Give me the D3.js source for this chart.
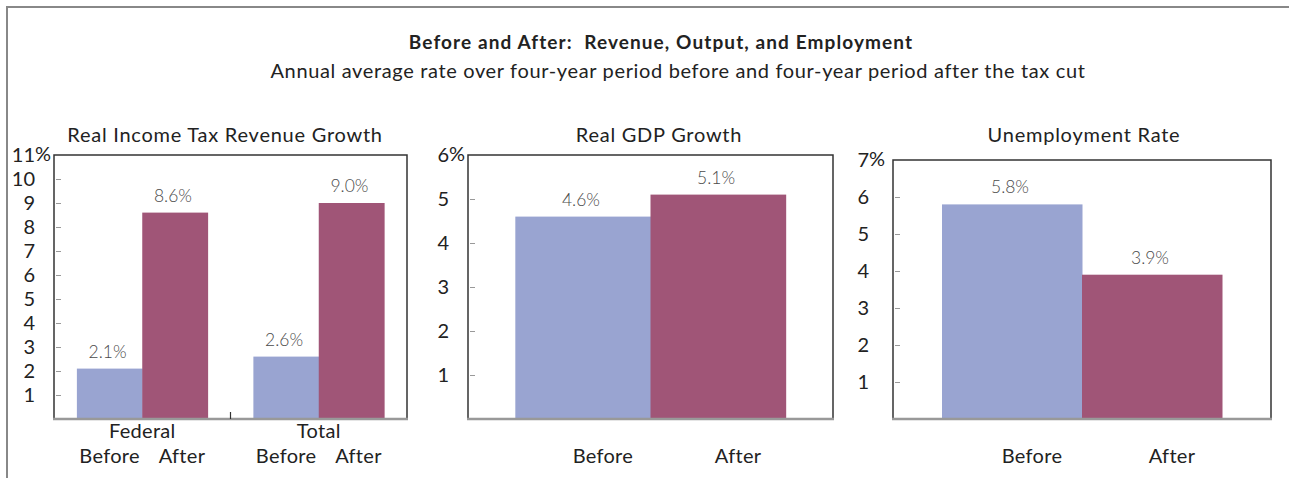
<!DOCTYPE html>
<html><head><meta charset="utf-8">
<script src="https://cdn.jsdelivr.net/npm/d3@7"></script>
<style>
body{margin:0;background:#fff;}
svg{display:block;font-family:Lato,"Open Sans",sans-serif;}
text{white-space:pre;}
</style></head>
<body><svg id="c" width="1289" height="478"></svg>
<script>
// ---- data ----
const mainTitle = "Before and After:  Revenue, Output, and Employment";
const subTitle = "Annual average rate over four-year period before and four-year period after the tax cut";
const periods = ["Before", "After"];
const panelTitles = ["Real Income Tax Revenue Growth", "Real GDP Growth", "Unemployment Rate"];
const revenueGroups = ["Federal", "Total"];
const revenueBefore = [2.1, 2.6];
const revenueAfter = [8.6, 9.0];
const gdpValues = [4.6, 5.1];
const unempValues = [5.8, 3.9];
const revenueTicks = [1,2,3,4,5,6,7,8,9,10,11];
const gdpTicks = [1,2,3,4,5,6];
const unempTicks = [1,2,3,4,5,6,7];
const revenueLabels = ["2.1%", "8.6%", "2.6%", "9.0%"];
const gdpLabels = ["4.6%", "5.1%"];
const unempLabels = ["5.8%", "3.9%"];

const colors = {Before: "#99a4d1", After: "#a05577"};
const svg = d3.select("#c");

// outer frame
svg.append("line").attr("x1",7).attr("x2",1289).attr("y1",7).attr("y2",7).attr("stroke","#888").attr("stroke-width",2);
svg.append("line").attr("x1",7).attr("x2",7).attr("y1",6).attr("y2",478).attr("stroke","#888").attr("stroke-width",2);

svg.append("text").attr("x",661).attr("y",49).attr("text-anchor","middle")
  .attr("font-weight","bold").attr("font-size",19).attr("letter-spacing",1.1).attr("fill","#222").text(mainTitle);
svg.append("text").attr("x",678).attr("y",78).attr("text-anchor","middle")
  .attr("font-size",20).attr("letter-spacing",0.65).attr("fill","#222").text(subTitle);

function panel(cfg){
  const g = svg.append("g");
  const y = d3.scaleLinear().domain([0, cfg.max]).range([cfg.bottom, cfg.top]);
  // title
  g.append("text").attr("x",cfg.titleX).attr("y",142).attr("text-anchor","middle")
    .attr("font-size",20).attr("letter-spacing",0.75).attr("fill","#222").text(cfg.title);
  // axis ticks inside
  const ax = g.append("g").attr("transform",`translate(${cfg.left+2},0)`)
    .call(d3.axisLeft(y).tickValues(cfg.ticks).tickSize(-5).tickPadding(cfg.labelGap).tickFormat(d=>d));
  ax.select(".domain").remove();
  ax.selectAll(".tick line").attr("stroke","#999").attr("stroke-width",1)
    .attr("display", d => d === cfg.max ? "none" : null);
  ax.selectAll(".tick text").attr("font-size",20).attr("fill","#222").attr("font-family","Lato, sans-serif");
  // percent sign on top label
  g.append("text").attr("x",cfg.left+2-cfg.labelGap).attr("y",y(cfg.max)).attr("dy","0.32em")
    .attr("font-size",20).attr("fill","#222").text("%");
  return {g, y};
}

function frame(g, left, right, top, bottom){
  g.append("path").attr("d",`M${left},${bottom}V${top}H${right}V${bottom}`)
    .attr("fill","none").attr("stroke","#333").attr("stroke-width",1.5);
}
function baseLine(g, left, right, bottom){
  g.append("line").attr("x1",left-1).attr("x2",right+1).attr("y1",bottom).attr("y2",bottom)
    .attr("stroke","#999").attr("stroke-width",2.5);
}

// ---- panel 1 ----
{
  const L=54,R=407,T=155,B=419;
  const {g,y} = panel({left:L,top:T,bottom:B,max:11,ticks:revenueTicks,title:panelTitles[0],titleX:225,labelGap:21});
  const x0 = d3.scaleBand().domain(revenueGroups).range([L,R]);
  const x1 = d3.scaleBand().domain(periods).range([0,x0.bandwidth()]).paddingOuter(0.35);
  const rows = revenueGroups.flatMap((grp,i)=>[
    {grp, p:"Before", v:revenueBefore[i], lab:revenueLabels[i*2]},
    {grp, p:"After", v:revenueAfter[i], lab:revenueLabels[i*2+1]}]);
  frame(g,L,R,T,B);
  g.selectAll("rect.bar").data(rows).join("rect")
    .attr("x",d=>x0(d.grp)+x1(d.p)).attr("width",x1.bandwidth()+0.5)
    .attr("y",d=>y(d.v)).attr("height",d=>y(0)-y(d.v)).attr("fill",d=>colors[d.p]);
  g.selectAll("text.val").data(rows).join("text")
    .attr("x",d=>x0(d.grp)+x1(d.p)+x1.bandwidth()/2-2).attr("y",d=>y(d.v)-11)
    .attr("text-anchor","middle").attr("font-size",17.5).attr("font-weight",300).attr("fill","#4a4a4a").text(d=>d.lab);
  baseLine(g,L,R,B);
  // middle tick
  g.append("line").attr("x1",x0("Total")).attr("x2",x0("Total")).attr("y1",B-7).attr("y2",B)
    .attr("stroke","#333").attr("stroke-width",1.2);
  g.selectAll("text.grp").data(revenueGroups).join("text")
    .attr("x",d=>x0(d)+x0.bandwidth()/2).attr("y",438).attr("text-anchor","middle")
    .attr("font-size",20).attr("letter-spacing",0.3).attr("fill","#222").text(d=>d);
  g.selectAll("text.per").data(rows).join("text")
    .attr("x",d=>x0(d.grp)+x1(d.p)+x1.bandwidth()/2+(d.p==="After"?7:0)).attr("y",463).attr("text-anchor","middle")
    .attr("font-size",20).attr("letter-spacing",0.3).attr("fill","#222").text(d=>d.p);
}

function simplePanel(L,R,T,B,max,ticks,title,titleX,vals,labs,gap){
  const {g,y} = panel({left:L,top:T,bottom:B,max,ticks,title,titleX,labelGap:gap});
  const x = d3.scaleBand().domain(periods).range([L,R]).paddingOuter(0.35);
  const rows = periods.map((p,i)=>({p, v:vals[i], lab:labs[i]}));
  frame(g,L,R,T,B);
  g.selectAll("rect.bar").data(rows).join("rect")
    .attr("x",d=>x(d.p)).attr("width",x.bandwidth()+0.5)
    .attr("y",d=>y(d.v)).attr("height",d=>y(0)-y(d.v)).attr("fill",d=>colors[d.p]);
  g.selectAll("text.val").data(rows).join("text")
    .attr("x",d=>x(d.p)+x.bandwidth()/2-2).attr("y",d=>y(d.v)-11)
    .attr("text-anchor","middle").attr("font-size",17.5).attr("font-weight",300).attr("fill","#4a4a4a").text(d=>d.lab);
  baseLine(g,L,R,B);
  g.selectAll("text.per").data(rows).join("text")
    .attr("x",d=>x(d.p)+x.bandwidth()/2+20).attr("y",463).attr("text-anchor","middle")
    .attr("font-size",20).attr("letter-spacing",0.3).attr("fill","#222").text(d=>d.p);
}
simplePanel(468,833,155,419,6,gdpTicks,panelTitles[1],659,gdpValues,gdpLabels,21);
simplePanel(893,1271,160,419,7,unempTicks,panelTitles[2],1084,unempValues,unempLabels,26);
</script></body></html>
